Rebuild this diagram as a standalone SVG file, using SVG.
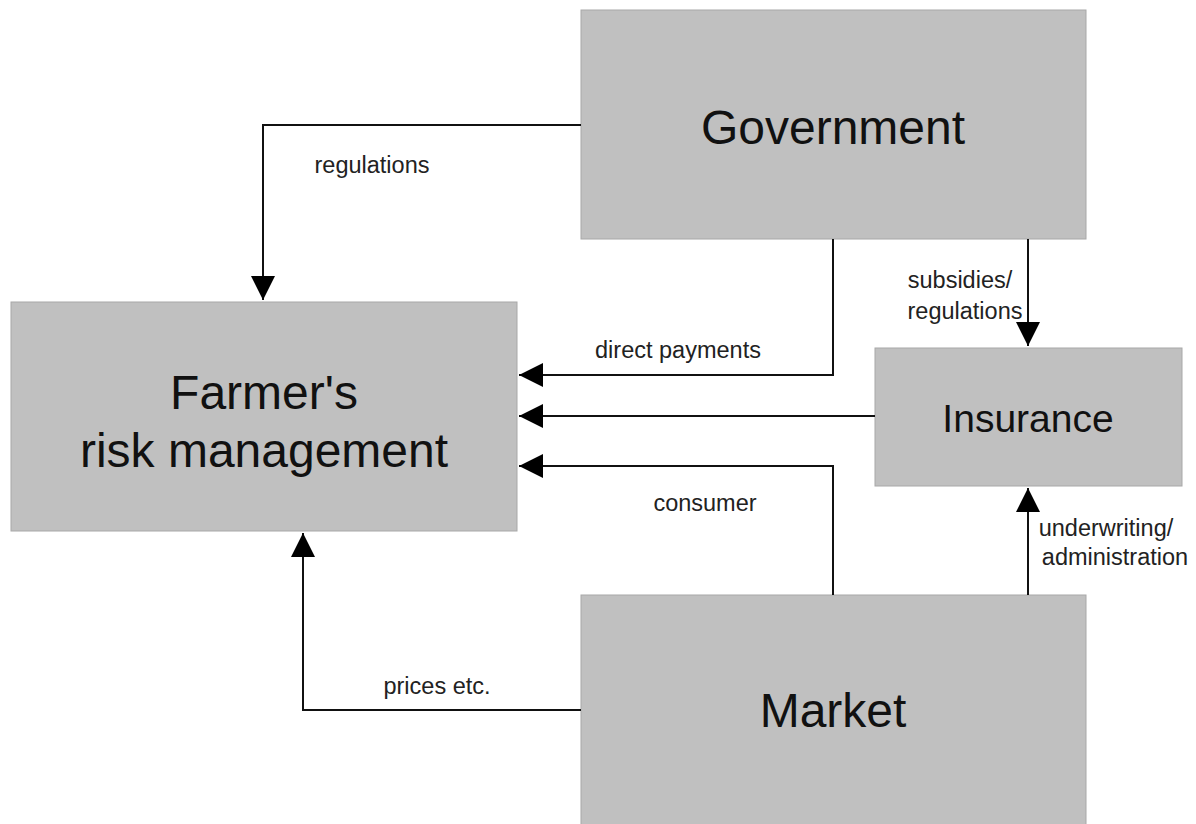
<svg xmlns="http://www.w3.org/2000/svg" width="1196" height="824" viewBox="0 0 1196 824">
<style>
.box{fill:#c0c0c0;stroke:#a8a8a8;stroke-width:1}
.big{font-family:"Liberation Sans",Arial,sans-serif;font-size:48px;fill:#111;text-anchor:middle}
.mid{font-family:"Liberation Sans",Arial,sans-serif;font-size:39px;fill:#111;text-anchor:middle}
.lbl{font-family:"Liberation Sans",Arial,sans-serif;font-size:23.5px;fill:#222;text-anchor:middle}
.con{fill:none;stroke:#111;stroke-width:2}
</style>
<defs>
<marker id="ah" markerUnits="userSpaceOnUse" markerWidth="24" markerHeight="24" viewBox="0 0 24 24" refX="24" refY="12" orient="auto">
<path d="M0,0 L24,12 L0,24 Z" fill="#000"/>
</marker>
</defs>
<rect width="1196" height="824" fill="#fff"/>
<g id="government"><rect class="box" x="581" y="10" width="505" height="229"/><text class="big" x="833" y="144">Government</text></g>
<g id="farmer"><rect class="box" x="11" y="302" width="506" height="229"/><text class="big" x="264" y="409">Farmer's</text><text class="big" x="264" y="467">risk management</text></g>
<g id="insurance"><rect class="box" x="875" y="348" width="307" height="138"/><text class="mid" x="1028" y="432">Insurance</text></g>
<g id="market"><rect class="box" x="581" y="595" width="505" height="240"/><text class="big" x="833" y="727">Market</text></g>
<g id="connectors">
<path class="con" d="M581,125 H263 V300" marker-end="url(#ah)"/>
<path class="con" d="M833,239 V375 H519" marker-end="url(#ah)"/>
<path class="con" d="M875,416 H519" marker-end="url(#ah)"/>
<path class="con" d="M833,595 V466 H519" marker-end="url(#ah)"/>
<path class="con" d="M581,710 H303 V533" marker-end="url(#ah)"/>
<path class="con" d="M1028,239 V346" marker-end="url(#ah)"/>
<path class="con" d="M1028,595 V488" marker-end="url(#ah)"/>
<text class="lbl" x="372" y="173">regulations</text>
<text class="lbl" x="678" y="358">direct payments</text>
<text class="lbl" x="705" y="511">consumer</text>
<text class="lbl" x="437" y="694">prices etc.</text>
<text class="lbl" x="960" y="288">subsidies/</text>
<text class="lbl" x="965" y="319">regulations</text>
<text class="lbl" x="1106" y="536">underwriting/</text>
<text class="lbl" x="1115" y="565">administration</text>
</g>
</svg>
